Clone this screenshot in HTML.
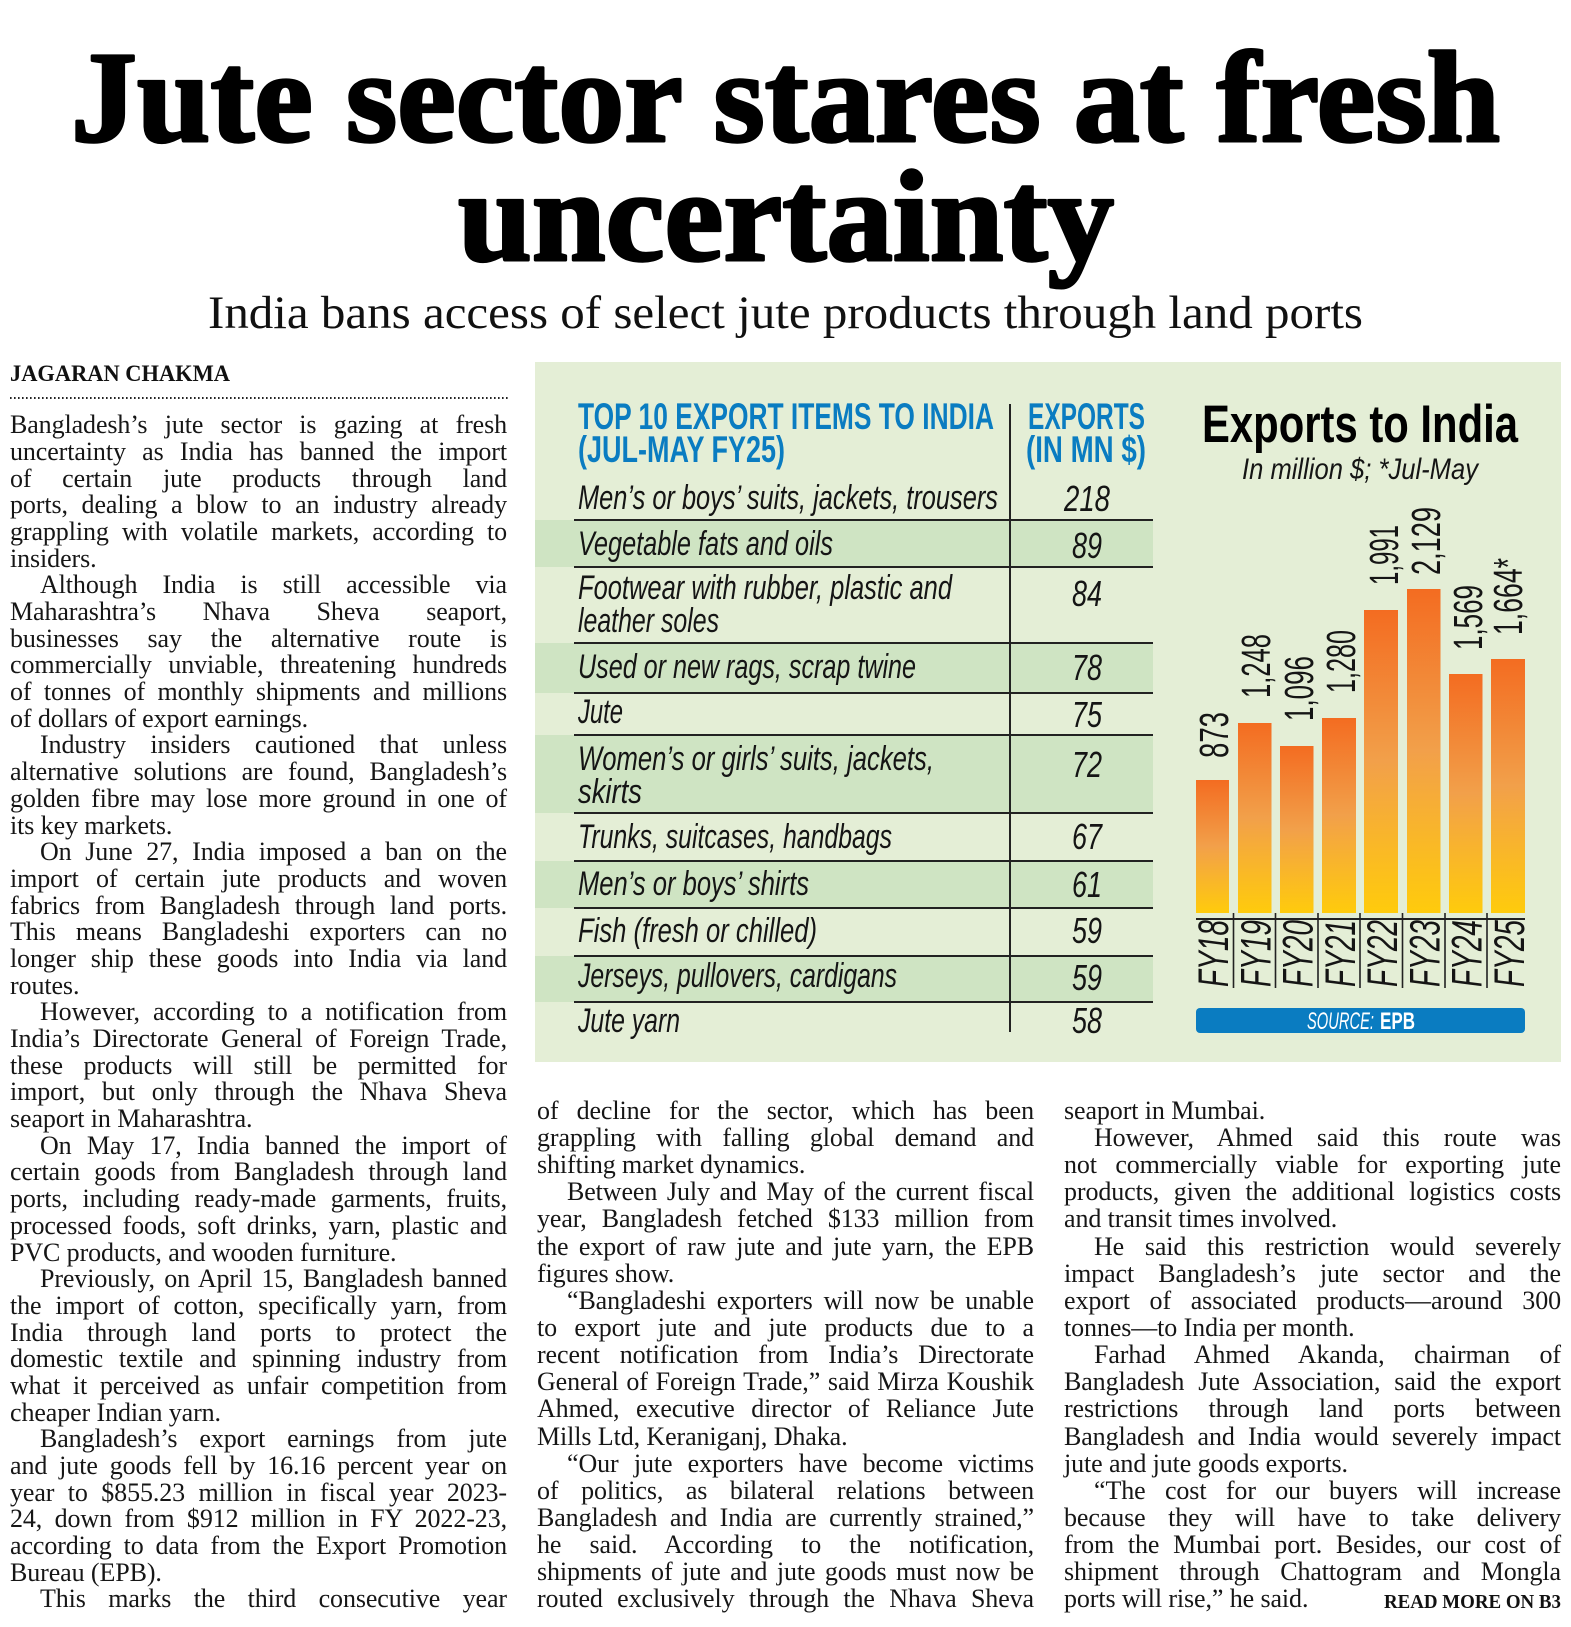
<!DOCTYPE html>
<html>
<head>
<meta charset="utf-8">
<style>
  html,body{margin:0;padding:0;background:#fff;}
  #page{position:relative;width:1571px;height:1627px;overflow:hidden;background:#fff;}
  .c{position:absolute;width:497px;font-family:"Liberation Serif",serif;font-size:26px;color:#161616;letter-spacing:-0.1px;}
  .c div{white-space:nowrap;text-align:justify;text-align-last:justify;}
  .c div.e{text-align-last:left;text-align:left;}
  .c div.i{padding-left:30px;}
  .L{left:10px;top:412.2px;line-height:26.7px;}
  .L div{height:26.7px;}
  .M{left:537px;top:1096.9px;line-height:27.15px;}
  .R{left:1064px;top:1096.9px;line-height:27.15px;}
  .M div,.R div{height:27.15px;}
  svg{position:absolute;left:0;top:0;pointer-events:none;}
</style>
</head>
<body>
<div id="page">

<div class="c L">
<div>Bangladesh’s jute sector is gazing at fresh</div>
<div>uncertainty as India has banned the import</div>
<div>of certain jute products through land</div>
<div>ports, dealing a blow to an industry already</div>
<div>grappling with volatile markets, according to</div>
<div class="e">insiders.</div>
<div class="i">Although India is still accessible via</div>
<div>Maharashtra’s Nhava Sheva seaport,</div>
<div>businesses say the alternative route is</div>
<div>commercially unviable, threatening hundreds</div>
<div>of tonnes of monthly shipments and millions</div>
<div class="e">of dollars of export earnings.</div>
<div class="i">Industry insiders cautioned that unless</div>
<div>alternative solutions are found, Bangladesh’s</div>
<div>golden fibre may lose more ground in one of</div>
<div class="e">its key markets.</div>
<div class="i">On June 27, India imposed a ban on the</div>
<div>import of certain jute products and woven</div>
<div>fabrics from Bangladesh through land ports.</div>
<div>This means Bangladeshi exporters can no</div>
<div>longer ship these goods into India via land</div>
<div class="e">routes.</div>
<div class="i">However, according to a notification from</div>
<div>India’s Directorate General of Foreign Trade,</div>
<div>these products will still be permitted for</div>
<div>import, but only through the Nhava Sheva</div>
<div class="e">seaport in Maharashtra.</div>
<div class="i">On May 17, India banned the import of</div>
<div>certain goods from Bangladesh through land</div>
<div>ports, including ready-made garments, fruits,</div>
<div>processed foods, soft drinks, yarn, plastic and</div>
<div class="e">PVC products, and wooden furniture.</div>
<div class="i">Previously, on April 15, Bangladesh banned</div>
<div>the import of cotton, specifically yarn, from</div>
<div>India through land ports to protect the</div>
<div>domestic textile and spinning industry from</div>
<div>what it perceived as unfair competition from</div>
<div class="e">cheaper Indian yarn.</div>
<div class="i">Bangladesh’s export earnings from jute</div>
<div>and jute goods fell by 16.16 percent year on</div>
<div>year to $855.23 million in fiscal year 2023-</div>
<div>24, down from $912 million in FY 2022-23,</div>
<div>according to data from the Export Promotion</div>
<div class="e">Bureau (EPB).</div>
<div class="i">This marks the third consecutive year</div>
</div>

<div class="c M">
<div>of decline for the sector, which has been</div>
<div>grappling with falling global demand and</div>
<div class="e">shifting market dynamics.</div>
<div class="i">Between July and May of the current fiscal</div>
<div>year, Bangladesh fetched $133 million from</div>
<div>the export of raw jute and jute yarn, the EPB</div>
<div class="e">figures show.</div>
<div class="i">“Bangladeshi exporters will now be unable</div>
<div>to export jute and jute products due to a</div>
<div>recent notification from India’s Directorate</div>
<div>General of Foreign Trade,” said Mirza Koushik</div>
<div>Ahmed, executive director of Reliance Jute</div>
<div class="e">Mills Ltd, Keraniganj, Dhaka.</div>
<div class="i">“Our jute exporters have become victims</div>
<div>of politics, as bilateral relations between</div>
<div>Bangladesh and India are currently strained,”</div>
<div>he said. According to the notification,</div>
<div>shipments of jute and jute goods must now be</div>
<div>routed exclusively through the Nhava Sheva</div>
</div>

<div class="c R">
<div class="e">seaport in Mumbai.</div>
<div class="i">However, Ahmed said this route was</div>
<div>not commercially viable for exporting jute</div>
<div>products, given the additional logistics costs</div>
<div class="e">and transit times involved.</div>
<div class="i">He said this restriction would severely</div>
<div>impact Bangladesh’s jute sector and the</div>
<div>export of associated products—around 300</div>
<div class="e">tonnes—to India per month.</div>
<div class="i">Farhad Ahmed Akanda, chairman of</div>
<div>Bangladesh Jute Association, said the export</div>
<div>restrictions through land ports between</div>
<div>Bangladesh and India would severely impact</div>
<div class="e">jute and jute goods exports.</div>
<div class="i">“The cost for our buyers will increase</div>
<div>because they will have to take delivery</div>
<div>from the Mumbai port. Besides, our cost of</div>
<div>shipment through Chattogram and Mongla</div>
<div class="e">ports will rise,” he said.</div>
</div>

<svg width="1571" height="1627" viewBox="0 0 1571 1627" xmlns="http://www.w3.org/2000/svg">
  <defs>
    <linearGradient id="bar" x1="0" y1="0" x2="0" y2="1">
      <stop offset="0" stop-color="#F36C21"/>
      <stop offset="0.5" stop-color="#F2A04A"/>
      <stop offset="1" stop-color="#FFCB0C"/>
    </linearGradient>
  </defs>

  <!-- Headline -->
  <g font-family="'Liberation Serif', serif" font-weight="bold" fill="#000" stroke="#000" stroke-width="3" stroke-linejoin="round">
    <text x="71" y="141" font-size="130" textLength="1429" lengthAdjust="spacingAndGlyphs">Jute sector stares at fresh</text>
    <text x="458" y="260" font-size="130" textLength="656" lengthAdjust="spacingAndGlyphs">uncertainty</text>
  </g>
  <text x="208" y="328" font-family="'Liberation Serif', serif" font-size="47" fill="#111" textLength="1155" lengthAdjust="spacingAndGlyphs">India bans access of select jute products through land ports</text>

  <!-- Byline -->
  <text x="10" y="381" font-family="'Liberation Serif', serif" font-weight="bold" font-size="23" fill="#111" textLength="220" lengthAdjust="spacingAndGlyphs">JAGARAN CHAKMA</text>
  <line x1="10" y1="398" x2="508" y2="398" stroke="#222" stroke-width="2" stroke-dasharray="1.6 2.4"/>

  <!-- Panel -->
  <rect x="535" y="362" width="1026" height="700" fill="#E4EED6"/>
  <g fill="#CFE4C3">
    <rect x="535" y="520" width="618" height="47"/>
    <rect x="535" y="643" width="618" height="50"/>
    <rect x="535" y="735" width="618" height="78"/>
    <rect x="535" y="861" width="618" height="47"/>
    <rect x="535" y="956" width="618" height="46"/>
  </g>
  <g stroke="#222" stroke-width="2">
    <line x1="574" y1="520" x2="1153" y2="520"/>
    <line x1="574" y1="567" x2="1153" y2="567"/>
    <line x1="574" y1="643" x2="1153" y2="643"/>
    <line x1="574" y1="693" x2="1153" y2="693"/>
    <line x1="574" y1="735" x2="1153" y2="735"/>
    <line x1="574" y1="813" x2="1153" y2="813"/>
    <line x1="574" y1="861" x2="1153" y2="861"/>
    <line x1="574" y1="908" x2="1153" y2="908"/>
    <line x1="574" y1="956" x2="1153" y2="956"/>
    <line x1="574" y1="1002" x2="1153" y2="1002"/>
    <line x1="1010" y1="404" x2="1010" y2="1032"/>
  </g>

  <!-- Table header -->
  <g font-family="'Liberation Sans Narrow','Liberation Sans',sans-serif" font-weight="bold" font-size="37" fill="#0A7CC1">
    <text x="578" y="429" textLength="416" lengthAdjust="spacingAndGlyphs">TOP 10 EXPORT ITEMS TO INDIA</text>
    <text x="578" y="462" textLength="207" lengthAdjust="spacingAndGlyphs">(JUL-MAY FY25)</text>
    <text x="1028" y="429" textLength="117" lengthAdjust="spacingAndGlyphs">EXPORTS</text>
    <text x="1026" y="462" textLength="120" lengthAdjust="spacingAndGlyphs">(IN MN $)</text>
  </g>

  <!-- Table items -->
  <g font-family="'Liberation Sans Narrow','Liberation Sans',sans-serif" font-style="italic" font-size="34" fill="#151515">
    <text x="578" y="509" textLength="420" lengthAdjust="spacingAndGlyphs">Men’s or boys’ suits, jackets, trousers</text>
    <text x="578" y="555" textLength="255" lengthAdjust="spacingAndGlyphs">Vegetable fats and oils</text>
    <text x="578" y="599" textLength="374" lengthAdjust="spacingAndGlyphs">Footwear with rubber, plastic and</text>
    <text x="578" y="632" textLength="141" lengthAdjust="spacingAndGlyphs">leather soles</text>
    <text x="578" y="678" textLength="338" lengthAdjust="spacingAndGlyphs">Used or new rags, scrap twine</text>
    <text x="578" y="723" textLength="45" lengthAdjust="spacingAndGlyphs">Jute</text>
    <text x="578" y="770" textLength="356" lengthAdjust="spacingAndGlyphs">Women’s or girls’ suits, jackets,</text>
    <text x="578" y="803" textLength="64" lengthAdjust="spacingAndGlyphs">skirts</text>
    <text x="578" y="848" textLength="314" lengthAdjust="spacingAndGlyphs">Trunks, suitcases, handbags</text>
    <text x="578" y="895" textLength="231" lengthAdjust="spacingAndGlyphs">Men’s or boys’ shirts</text>
    <text x="578" y="942" textLength="239" lengthAdjust="spacingAndGlyphs">Fish (fresh or chilled)</text>
    <text x="578" y="987" textLength="319" lengthAdjust="spacingAndGlyphs">Jerseys, pullovers, cardigans</text>
    <text x="578" y="1032" textLength="102" lengthAdjust="spacingAndGlyphs">Jute yarn</text>
  </g>

  <!-- Table values -->
  <g font-family="'Liberation Sans Narrow','Liberation Sans',sans-serif" font-style="italic" font-size="36" fill="#151515" text-anchor="middle">
    <text x="1087" y="511" textLength="46" lengthAdjust="spacingAndGlyphs">218</text>
    <text x="1087" y="558" textLength="30" lengthAdjust="spacingAndGlyphs">89</text>
    <text x="1087" y="606" textLength="30" lengthAdjust="spacingAndGlyphs">84</text>
    <text x="1087" y="680" textLength="30" lengthAdjust="spacingAndGlyphs">78</text>
    <text x="1087" y="727" textLength="30" lengthAdjust="spacingAndGlyphs">75</text>
    <text x="1087" y="777" textLength="30" lengthAdjust="spacingAndGlyphs">72</text>
    <text x="1087" y="849" textLength="30" lengthAdjust="spacingAndGlyphs">67</text>
    <text x="1087" y="897" textLength="30" lengthAdjust="spacingAndGlyphs">61</text>
    <text x="1087" y="943" textLength="30" lengthAdjust="spacingAndGlyphs">59</text>
    <text x="1087" y="990" textLength="30" lengthAdjust="spacingAndGlyphs">59</text>
    <text x="1087" y="1033" textLength="30" lengthAdjust="spacingAndGlyphs">58</text>
  </g>

  <!-- Chart title -->
  <text x="1202" y="442" font-family="'Liberation Sans Narrow','Liberation Sans',sans-serif" font-weight="bold" font-size="53" fill="#000" textLength="316" lengthAdjust="spacingAndGlyphs">Exports to India</text>
  <text x="1242" y="479" font-family="'Liberation Sans Narrow','Liberation Sans',sans-serif" font-style="italic" font-size="30" fill="#151515" textLength="236" lengthAdjust="spacingAndGlyphs">In million $; *Jul-May</text>

  <!-- Bars -->
  <g fill="url(#bar)">
    <rect x="1196" y="780" width="33" height="133"/>
    <rect x="1238" y="723" width="33.5" height="190"/>
    <rect x="1280" y="746" width="33.5" height="167"/>
    <rect x="1322" y="718" width="34" height="195"/>
    <rect x="1364" y="610" width="34" height="303"/>
    <rect x="1407" y="589" width="33.5" height="324"/>
    <rect x="1449" y="674" width="33.5" height="239"/>
    <rect x="1491" y="659" width="34" height="254"/>
  </g>

  <!-- Axis -->
  <line x1="1196" y1="919" x2="1525" y2="919" stroke="#222" stroke-width="2"/>
  <g stroke="#222" stroke-width="1.6">
    <line x1="1233.5" y1="913" x2="1233.5" y2="988"/>
    <line x1="1275.5" y1="913" x2="1275.5" y2="988"/>
    <line x1="1318" y1="913" x2="1318" y2="988"/>
    <line x1="1360" y1="913" x2="1360" y2="988"/>
    <line x1="1402.5" y1="913" x2="1402.5" y2="988"/>
    <line x1="1445" y1="913" x2="1445" y2="988"/>
    <line x1="1487" y1="913" x2="1487" y2="988"/>
  </g>

  <!-- FY labels -->
  <g font-family="'Liberation Sans Narrow','Liberation Sans',sans-serif" font-style="italic" font-size="43" fill="#151515">
    <text transform="translate(1228,987) rotate(-90)" textLength="67" lengthAdjust="spacingAndGlyphs">FY18</text>
    <text transform="translate(1270.5,987) rotate(-90)" textLength="67" lengthAdjust="spacingAndGlyphs">FY19</text>
    <text transform="translate(1312.5,987) rotate(-90)" textLength="67" lengthAdjust="spacingAndGlyphs">FY20</text>
    <text transform="translate(1355,987) rotate(-90)" textLength="67" lengthAdjust="spacingAndGlyphs">FY21</text>
    <text transform="translate(1397,987) rotate(-90)" textLength="67" lengthAdjust="spacingAndGlyphs">FY22</text>
    <text transform="translate(1439.5,987) rotate(-90)" textLength="67" lengthAdjust="spacingAndGlyphs">FY23</text>
    <text transform="translate(1481.5,987) rotate(-90)" textLength="67" lengthAdjust="spacingAndGlyphs">FY24</text>
    <text transform="translate(1524,987) rotate(-90)" textLength="67" lengthAdjust="spacingAndGlyphs">FY25</text>
  </g>

  <!-- Value labels -->
  <g font-family="'Liberation Sans Narrow','Liberation Sans',sans-serif" font-size="41" fill="#151515">
    <text transform="translate(1228,758) rotate(-90)" textLength="46" lengthAdjust="spacingAndGlyphs">873</text>
    <text transform="translate(1270,698) rotate(-90)" textLength="64" lengthAdjust="spacingAndGlyphs">1,248</text>
    <text transform="translate(1313,721) rotate(-90)" textLength="65" lengthAdjust="spacingAndGlyphs">1,096</text>
    <text transform="translate(1355,693) rotate(-90)" textLength="63" lengthAdjust="spacingAndGlyphs">1,280</text>
    <text transform="translate(1398,585) rotate(-90)" textLength="60" lengthAdjust="spacingAndGlyphs">1,991</text>
    <text transform="translate(1440,575) rotate(-90)" textLength="68" lengthAdjust="spacingAndGlyphs">2,129</text>
    <text transform="translate(1482,650) rotate(-90)" textLength="65" lengthAdjust="spacingAndGlyphs">1,569</text>
    <text transform="translate(1522,635) rotate(-90)" textLength="77" lengthAdjust="spacingAndGlyphs">1,664*</text>
  </g>

  <!-- Source -->
  <rect x="1196" y="1008" width="329" height="25" rx="4" ry="4" fill="#0A7CC1"/>
  <text x="1307" y="1029" font-family="'Liberation Sans Narrow','Liberation Sans',sans-serif" font-style="italic" font-size="24" fill="#fff" textLength="67" lengthAdjust="spacingAndGlyphs">SOURCE:</text>
  <text x="1380" y="1029" font-family="'Liberation Sans Narrow','Liberation Sans',sans-serif" font-weight="bold" font-size="24" fill="#fff" textLength="35" lengthAdjust="spacingAndGlyphs">EPB</text>

  <!-- Read more -->
  <text x="1384" y="1608" font-family="'Liberation Serif', serif" font-weight="bold" font-size="20" fill="#111" textLength="177" lengthAdjust="spacingAndGlyphs">READ MORE ON B3</text>
</svg>

</div>
</body>
</html>
